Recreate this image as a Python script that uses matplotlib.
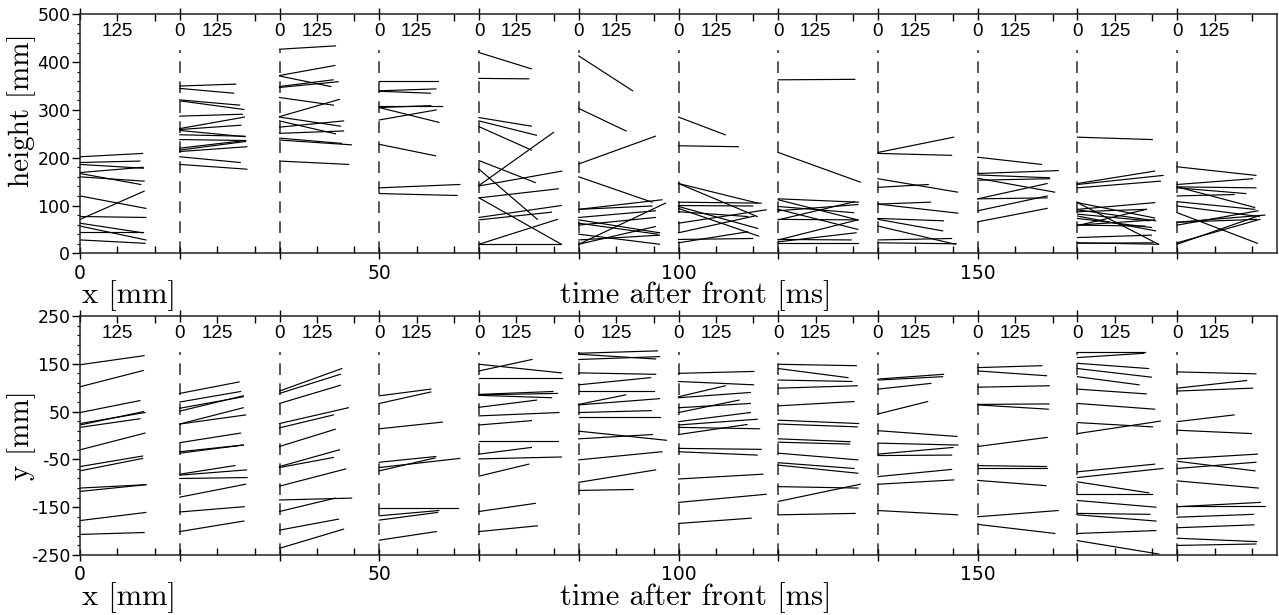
import matplotlib
matplotlib.use("Agg")
import matplotlib.pyplot as plt
from matplotlib.ticker import FixedLocator, FixedFormatter

plt.rcParams["font.family"] = ["Liberation Sans Narrow", "Liberation Sans", "DejaVu Sans"]
plt.rcParams["axes.unicode_minus"] = False

# 12 runs side by side, each run is a block 200/12 mm wide, time 0..~290 ms
# each entry: (value at t=0, value at end, duration in ms)
N_GROUPS = 12
GROUP_W = 200 / N_GROUPS
MS_PER_MM = 20.0          # 125 ms <-> 6.25 mm on the x axis

# ---- top panel: height [mm] ----
h01 = [(202, 209, 209), (190, 193, 200), (186, 178, 212), (169, 180, 211), (167, 144, 203),
       (160, 151, 214), (120, 94, 220), (71, 130, 214), (77, 75, 220), (63, 43, 209),
       (57, 28, 220), (45, 45, 211), (28, 21, 217)]
h02 = [(350, 354, 187), (345, 335, 180), (321, 310, 200), (319, 301, 214), (287, 291, 209),
       (261, 285, 216), (259, 268, 204), (257, 244, 218), (248, 245, 218), (238, 236, 220),
       (220, 236, 218), (216, 234, 220), (213, 223, 224), (202, 190, 202), (186, 176, 224)]
h03 = [(427, 434, 187), (372, 393, 185), (371, 349, 171), (349, 363, 179), (347, 359, 196),
       (326, 310, 180), (286, 322, 200), (285, 266, 204), (277, 250, 187), (264, 277, 214),
       (251, 256, 214), (241, 230, 207), (237, 227, 240), (193, 186, 231)]
h04 = [(361, 361, 195), (340, 344, 189), (339, 335, 171), (308, 308, 211), (305, 309, 172),
       (305, 274, 199), (279, 300, 190), (228, 204, 188), (137, 144, 269), (125, 121, 260)]
h05 = [(420, 386, 175), (366, 365, 166), (284, 266, 175), (277, 247, 192), (265, 216, 175),
       (194, 148, 188), (142, 253, 249), (176, 71, 195), (141, 172, 277), (116, 135, 265),
       (116, 19, 275), (75, 100, 275), (70, 86, 242), (19, 71, 262), (19, 19, 275)]
h06 = [(413, 340, 180), (303, 256, 158), (187, 245, 256), (160, 107, 245), (92, 99, 245),
       (92, 112, 278), (75, 89, 256), (70, 43, 270), (63, 40, 264), (59, 75, 256),
       (40, 19, 270), (19, 105, 290), (19, 56, 256), (28, 38, 270)]
h07 = [(285, 248, 156), (225, 223, 200), (146, 105, 265), (146, 77, 263), (107, 105, 276),
       (100, 99, 248), (98, 52, 265), (94, 36, 268), (87, 77, 231), (63, 91, 293),
       (43, 78, 254), (29, 31, 248), (22, 45, 231)]
h08 = [(363, 364, 256), (211, 149, 274), (114, 107, 268), (112, 70, 266), (98, 85, 252),
       (92, 50, 266), (89, 102, 266), (71, 70, 266), (70, 108, 255), (28, 70, 266),
       (24, 43, 260), (21, 21, 266), (29, 28, 244)]
h09 = [(211, 243, 253), (209, 205, 246), (156, 128, 266), (138, 144, 168), (103, 107, 175),
       (103, 84, 267), (73, 68, 219), (71, 47, 216), (57, 19, 258), (28, 31, 246), (22, 20, 261)]
h10 = [(201, 186, 213), (167, 173, 269), (164, 158, 240), (157, 128, 257), (153, 156, 240),
       (114, 146, 232), (114, 116, 232), (89, 120, 232), (66, 94, 232)]
h11 = [(243, 238, 250), (146, 172, 258), (144, 163, 286), (137, 151, 277), (106, 74, 258),
       (92, 106, 258), (91, 68, 261), (87, 92, 230), (82, 68, 239), (78, 47, 261),
       (73, 54, 247), (59, 57, 225), (58, 92, 230), (59, 70, 258), (33, 38, 247),
       (22, 19, 271), (21, 22, 252), (106, 19, 271)]
h12 = [(181, 163, 263), (144, 156, 252), (139, 137, 263), (137, 125, 229), (120, 123, 190),
       (139, 96, 259), (108, 92, 259), (99, 77, 274), (85, 21, 268), (65, 80, 293),
       (59, 89, 270), (22, 71, 276), (19, 77, 265), (65, 71, 265)]

# ---- bottom panel: y [mm] ----
y01 = [(148, 167, 214), (102, 136, 212), (48, 73, 200), (25, 48, 217), (22, 50, 212),
       (17, 35, 200), (-30, 5, 217), (-65, -43, 209), (-74, -48, 209), (-110, -103, 220),
       (-117, -103, 220), (-178, -161, 220), (-207, -203, 214)]
y02 = [(88, 112, 198), (70, 92, 203), (57, 81, 212), (51, 83, 212), (24, 58, 212),
       (24, 43, 220), (-15, 5, 203), (-34, -20, 212), (-37, -20, 212), (-81, -63, 184),
       (-83, -72, 223), (-90, -88, 225), (-129, -102, 220), (-160, -149, 215), (-201, -179, 214)]
y03 = [(93, 140, 208), (88, 128, 203), (67, 105, 203), (25, 58, 230), (16, 43, 180),
       (-23, 13, 186), (-65, -30, 200), (-67, -46, 180), (-106, -70, 221), (-135, -131, 241),
       (-159, -131, 186), (-198, -175, 197), (-236, -196, 214)]
y04 = [(83, 97, 172), (67, 91, 172), (14, 28, 211), (-56, -44, 189), (-67, -48, 269),
       (-74, -47, 186), (-152, -152, 262), (-168, -157, 199), (-177, -161, 195), (-219, -201, 191)]
y05 = [(149, 131, 275), (135, 159, 177), (121, 121, 277), (86, 92, 247), (85, 88, 262),
       (84, 79, 242), (59, 74, 192), (41, 48, 267), (22, 31, 175), (-12, -12, 264),
       (-39, -25, 175), (-49, -45, 275), (-85, -60, 166), (-159, -142, 188), (-201, -189, 195)]
y06 = [(172, 177, 263), (170, 160, 257), (159, 165, 270), (131, 128, 257), (106, 121, 240),
       (93, 93, 250), (65, 85, 157), (64, 77, 270), (48, 52, 243), (38, 38, 273),
       (9, -10, 293), (-7, 2, 246), (-51, -34, 278), (-98, -72, 257), (-115, -113, 182)]
y07 = [(130, 134, 252), (113, 106, 251), (81, 104, 156), (79, 90, 240), (58, 67, 240),
       (48, 74, 202), (29, 48, 240), (22, 34, 263), (17, 14, 271), (2, 23, 229),
       (-27, -29, 276), (-34, -41, 263), (-91, -81, 282), (-140, -123, 293), (-184, -173, 243)]
y08 = [(149, 146, 261), (140, 121, 233), (116, 113, 246), (99, 104, 264), (62, 71, 253),
       (32, 25, 269), (24, 18, 264), (-7, -13, 240), (-14, -18, 238), (-37, -51, 266),
       (-57, -69, 253), (-62, -79, 266), (-107, -110, 266), (-138, -102, 274), (-166, -163, 257)]
y09 = [(118, 128, 219), (116, 123, 216), (97, 109, 177), (45, 71, 166), (10, -2, 264),
       (-16, -20, 267), (-39, -25, 251), (-42, -41, 246), (-86, -71, 246), (-102, -93, 253),
       (-157, -166, 266)]
y10 = [(142, 146, 214), (135, 125, 230), (101, 104, 239), (65, 66, 238), (64, 55, 236),
       (-23, -4, 232), (-63, -65, 230), (-67, -67, 230), (-94, -105, 228), (-170, -157, 269),
       (-186, -205, 258)]
y11 = [(175, 175, 227), (163, 172, 222), (151, 140, 238), (140, 122, 247), (123, 106, 206),
       (97, 87, 230), (67, 55, 258), (27, 18, 251), (4, 30, 277), (-76, -60, 258),
       (-88, -69, 286), (-97, -120, 238), (-123, -123, 249), (-136, -150, 262), (-163, -165, 242),
       (-166, -179, 262), (-205, -199, 262), (-220, -248, 272)]
y12 = [(133, 129, 263), (99, 115, 232), (93, 99, 252), (29, 43, 190), (11, 4, 248),
       (-49, -39, 268), (-54, -74, 260), (-69, -56, 263), (-95, -110, 271), (-147, -147, 293),
       (-149, -140, 278), (-171, -165, 254), (-193, -187, 256), (-215, -222, 265), (-230, -227, 263)]

height_groups = [h01, h02, h03, h04, h05, h06, h07, h08, h09, h10, h11, h12]
y_groups = [y01, y02, y03, y04, y05, y06, y07, y08, y09, y10, y11, y12]

x_labels = ["0", "", "", "50", "", "", "100", "", "", "150", "", ""]

CM = "cmr10"
TICKFONT = ["Liberation Sans Narrow", "Liberation Sans", "DejaVu Sans"]


def draw_panel(ax, groups, ylim, ymajor, yminor, ylabel, ylabel_pos):
    y0, y1 = ylim
    for g, segs in enumerate(groups):
        xs = g * GROUP_W
        if g > 0:
            ax.plot([xs, xs], [y0, y0 + 0.85 * (y1 - y0)], color="#3a3a3a", lw=1.2,
                    dashes=(7, 5), zorder=1)
            ax.text(xs, 0.928, "0", transform=ax.get_xaxis_transform(), ha="center",
                    va="center", fontsize=13.5, family=TICKFONT)
        ax.text(xs + 125 / MS_PER_MM, 0.928, "125", transform=ax.get_xaxis_transform(),
                ha="center", va="center", fontsize=13.5, family=TICKFONT)
        for a, b, dur in segs:
            ax.plot([xs, xs + dur / MS_PER_MM], [a, b], color="black", lw=0.85, zorder=2)

    ax.set_xlim(0, 200)
    ax.set_ylim(y0, y1)

    starts = [g * GROUP_W for g in range(N_GROUPS)]
    minors = [s + d for s in starts for d in (6.25, 12.5)]
    ax.xaxis.set_major_locator(FixedLocator(starts))
    ax.xaxis.set_major_formatter(FixedFormatter(x_labels))
    ax.xaxis.set_minor_locator(FixedLocator(minors))
    ax.tick_params(axis="x", which="major", direction="inout", length=9, width=1,
                   top=True, bottom=True, labelsize=13.5, pad=3, labelfontfamily=TICKFONT[0])
    ax.tick_params(axis="x", which="minor", direction="in", length=5, width=1,
                   top=True, bottom=True)

    ax.yaxis.set_major_locator(FixedLocator(ymajor))
    ax.yaxis.set_minor_locator(FixedLocator(yminor))
    ax.tick_params(axis="y", which="major", direction="out", length=6, width=1,
                   labelsize=12.5, pad=1, labelfontfamily="Liberation Sans Narrow")
    ax.tick_params(axis="y", which="minor", direction="out", length=2.5, width=0.8)

    for sp in ax.spines.values():
        sp.set_linewidth(1.1)
        sp.set_color("#222222")

    ax.set_ylabel(ylabel, family=CM, fontsize=21)
    ax.yaxis.set_label_coords(*ylabel_pos)
    ax.text(0.002, -0.178, "x [mm]", transform=ax.transAxes, ha="left", va="center",
            family=CM, fontsize=22)
    ax.text(0.514, -0.178, "time after front [ms]", transform=ax.transAxes, ha="center",
            va="center", family=CM, fontsize=22)


fig = plt.figure(figsize=(12.79, 6.15), dpi=100)
ax_top = fig.add_axes([0.0626, 0.5881, 0.9358, 0.3886])
ax_bot = fig.add_axes([0.0626, 0.0976, 0.9358, 0.3886])

draw_panel(ax_top, height_groups, (0, 500), list(range(0, 501, 100)),
           list(range(0, 501, 20)), "height [mm]", (-0.037, 0.60))
draw_panel(ax_bot, y_groups, (-250, 250), list(range(-250, 251, 100)),
           list(range(-250, 251, 20)), "y [mm]", (-0.037, 0.5))

fig.savefig("out.png", dpi=100)
